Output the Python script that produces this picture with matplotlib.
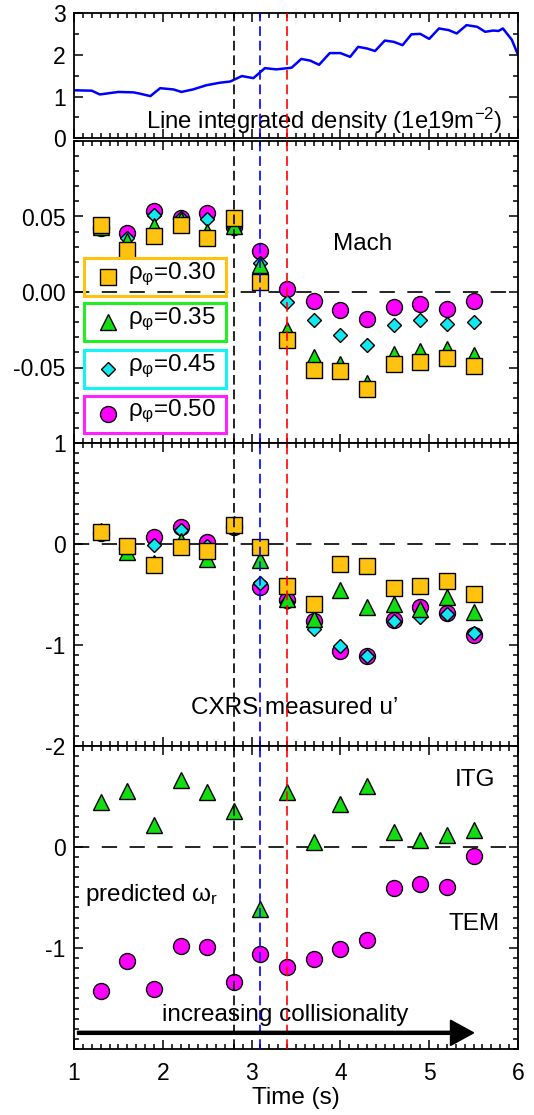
import matplotlib
matplotlib.use("Agg")
import matplotlib.pyplot as plt
from matplotlib.patches import Rectangle, FancyArrow
from matplotlib.ticker import MultipleLocator, FixedLocator

plt.rcParams.update({
    "font.family": "Liberation Sans",
    "mathtext.fontset": "custom",
    "mathtext.rm": "Liberation Sans",
    "mathtext.it": "Liberation Sans",
    "mathtext.bf": "Liberation Sans:bold",
    "axes.unicode_minus": False,
    "lines.scale_dashes": False,
    "axes.linewidth": 1.3,
})

# ---- data --------------------------------------------------------------------
dens_t = [1.00, 1.20, 1.29, 1.50, 1.67, 1.74, 1.86, 1.97, 2.12, 2.21, 2.34, 2.49,
          2.64, 2.76, 2.89, 3.02, 3.15, 3.28, 3.45, 3.56, 3.66, 3.76, 3.88,
          4.00, 4.11, 4.20, 4.30, 4.39, 4.50, 4.60, 4.70, 4.80, 4.90, 5.00,
          5.11, 5.22, 5.31, 5.42, 5.54, 5.63, 5.72, 5.78, 5.83, 5.93, 6.00]
dens_v = [1.15, 1.14, 1.05, 1.11, 1.10, 1.07, 1.01, 1.20, 1.17, 1.11, 1.17, 1.27,
          1.33, 1.36, 1.49, 1.44, 1.68, 1.65, 1.69, 1.90, 1.86, 1.76, 2.04,
          2.04, 1.95, 2.19, 2.15, 2.09, 2.34, 2.31, 2.23, 2.49, 2.50, 2.38,
          2.63, 2.59, 2.51, 2.71, 2.67, 2.55, 2.58, 2.57, 2.63, 2.36, 2.00]

t = [1.3, 1.6, 1.9, 2.2, 2.5, 2.8, 3.1, 3.4, 3.7, 4.0, 4.3, 4.6, 4.9, 5.2, 5.5]

mach_030 = [0.0446, 0.028, 0.0373, 0.0446, 0.0357, 0.049, 0.0066, -0.032,
            -0.0514, -0.052, -0.0642, -0.0477, -0.0463, -0.044, -0.0488]
mach_035 = [0.043, 0.034, 0.044, 0.048, 0.040, 0.044, 0.018, -0.025,
            -0.0433, -0.048, -0.060, -0.041, -0.039, -0.038, -0.042]
mach_045 = [0.042, 0.0357, 0.0512, 0.049, 0.0483, 0.043, 0.0192, -0.0069,
            -0.0188, -0.0283, -0.0349, -0.0216, -0.0183, -0.021, -0.0197]
mach_050 = [0.0424, 0.039, 0.0534, 0.049, 0.0523, 0.0428, 0.0269, 0.0022,
            -0.0058, -0.0117, -0.0177, -0.0102, -0.008, -0.011, -0.006]

up_030 = [0.115, -0.017, -0.21, -0.03, -0.066, 0.185, -0.033, -0.414,
          -0.593, -0.199, -0.215, -0.437, -0.42, -0.37, -0.494]
up_035 = [0.13, -0.08, -0.19, 0.03, -0.146, 0.2, -0.156, -0.546,
          -0.745, -0.454, -0.63, -0.6, -0.65, -0.53, -0.67]
up_045 = [0.12, -0.05, -0.013, 0.142, -0.02, 0.16, -0.387, -0.58,
          -0.844, -1.01, -1.11, -0.768, -0.725, -0.695, -0.884]
up_050 = [0.11, -0.04, 0.07, 0.165, 0.016, 0.17, -0.427, -0.553,
          -0.768, -1.066, -1.11, -0.758, -0.626, -0.686, -0.907]

omega_itg = [0.446, 0.551, 0.215, 0.66, 0.538, 0.356, -0.617, 0.545,
             0.05, 0.423, 0.604, 0.149, 0.066, 0.116, 0.165]
omega_tem = [-1.426, -1.129, -1.402, -0.98, -0.996, -1.337, -1.056, -1.188,
             -1.112, -1.01, -0.924, -0.412, -0.372, -0.396, -0.089]

vlines = [2.8, 3.1, 3.4]
vcolors = ["black", "#0000ff", "#ff0000"]
rho_labels = ["0.30", "0.35", "0.45", "0.50"]

# ---- styles ------------------------------------------------------------------
C_SQ, C_TR, C_DI, C_CI = "#ffc20e", "#11dd11", "#11e8f0", "#ff00ff"
BOX = ["#ffc20e", "#22ee22", "#11f4f8", "#ff22ff"]
MK = {"s": dict(marker="s", ms=11, mfc=C_SQ),
      "^": dict(marker="^", ms=11.5, mfc=C_TR),
      "D": dict(marker="D", ms=7.5, mfc=C_DI),
      "o": dict(marker="o", ms=11.5, mfc=C_CI)}
FS_TICK = 16.5
FS_TXT = 17.5

fig = plt.figure(figsize=(5.34, 11.15), dpi=100)
L, W = 74 / 534, 444 / 534


def rect(y_top, y_bot):
    return [L, 1 - y_bot / 1115, W, (y_bot - y_top) / 1115]


def style(ax, ymin, ymax, yticks, ylabels, yminor, xlab=False):
    ax.set_xlim(1, 6)
    ax.set_ylim(ymin, ymax)
    ax.xaxis.set_major_locator(MultipleLocator(1))
    ax.xaxis.set_minor_locator(MultipleLocator(0.1))
    ax.yaxis.set_major_locator(FixedLocator(yticks))
    ax.set_yticklabels(ylabels)
    ax.yaxis.set_minor_locator(MultipleLocator(yminor))
    ax.tick_params(which="both", direction="in", top=True, right=True,
                   labelsize=FS_TICK, width=1.1, pad=6)
    ax.tick_params(which="major", length=6.5)
    ax.tick_params(which="minor", length=3.5)
    ax.tick_params(axis="x", labelbottom=xlab, pad=9)
    for x, c in zip(vlines, vcolors):
        ax.axvline(x, color=c, lw=1.2, dashes=(7, 3.5), zorder=5)


def zero(ax):
    ax.axhline(0, color="black", lw=1.2, dashes=(11, 9), zorder=1)


def pt(ax, y, key):
    ax.plot(t, y, ls="none", mec="black", mew=1.0, zorder=3, **MK[key])


# ---- panel 1: density --------------------------------------------------------
ax1 = fig.add_axes(rect(13, 138.3))
ax1.plot(dens_t, dens_v, color="#0000ff", lw=1.8)
style(ax1, 0, 3, [0, 1, 2, 3], ["0", "1", "2", "3"], 0.5)
ax1.text(5.82, 0.42, r"Line integrated density (1e19m$^{\mathregular{-2}}$)",
         ha="right", va="center", fontsize=17.2)

# ---- panel 2: Mach -----------------------------------------------------------
ax2 = fig.add_axes(rect(141, 443))
style(ax2, -0.1, 0.1, [-0.05, 0.0, 0.05], ["-0.05", "0.00", "0.05"], 0.01)
zero(ax2)
pt(ax2, mach_050, "o")
pt(ax2, mach_045, "D")
pt(ax2, mach_035, "^")
pt(ax2, mach_030, "s")
ax2.text(4.25, 0.032, "Mach", ha="center", va="center", fontsize=FS_TXT)

box_y = [(257.7, 295.7), (303.3, 341.0), (350.0, 387.7), (395.7, 432.7)]
keys = ["s", "^", "D", "o"]
for (yt, yb), k, col, lab in zip(box_y, keys, BOX, rho_labels):
    y0 = (443 - yb) / 302
    h = (yb - yt) / 302
    ax2.add_patch(Rectangle((0.0225, y0), 0.3195, h, transform=ax2.transAxes,
                            fill=False, ec=col, lw=2.2, zorder=6))
    ax2.plot([0.076], [y0 + h / 2], transform=ax2.transAxes, ls="none",
             mec="black", mew=1.0, zorder=6, **MK[k])
    ax2.text(0.122, y0 + h / 2 + 0.008, r"$\rho_\varphi$=" + lab,
             transform=ax2.transAxes, ha="left", va="center",
             fontsize=FS_TXT, zorder=6)

# ---- panel 3: u' -------------------------------------------------------------
ax3 = fig.add_axes(rect(443, 745.7))
style(ax3, -2, 1, [-2, -1, 0, 1], ["-2", "-1", "0", "1"], 0.1)
zero(ax3)
pt(ax3, up_050, "o")
pt(ax3, up_045, "D")
pt(ax3, up_035, "^")
pt(ax3, up_030, "s")
ax3.text(3.49, -1.63, "CXRS measured u\u2019", ha="center", va="center",
         fontsize=FS_TXT)

# ---- panel 4: predicted omega ------------------------------------------------
ax4 = fig.add_axes(rect(745.7, 1049))
style(ax4, -2, 1, [-1, 0], ["-1", "0"], 0.1, xlab=True)
zero(ax4)
pt(ax4, omega_tem, "o")
pt(ax4, omega_itg, "^")
ax4.text(5.52, 0.66, "ITG", ha="center", va="center", fontsize=FS_TXT)
ax4.text(5.5, -0.76, "TEM", ha="center", va="center", fontsize=FS_TXT)
ax4.text(1.12, -0.48, r"predicted $\omega_{\mathregular{r}}$", ha="left",
         va="center", fontsize=FS_TXT)
ax4.text(3.38, -1.66, "increasing collisionality", ha="center", va="center",
         fontsize=FS_TXT)
ax4.add_patch(FancyArrow(1.04, -1.84, 4.46, 0, width=0.03, head_width=0.25,
                         head_length=0.26, length_includes_head=True,
                         color="black", zorder=6))
ax4.set_xlabel("Time (s)", fontsize=FS_TXT, labelpad=2)

fig.savefig("out.png", dpi=100)
